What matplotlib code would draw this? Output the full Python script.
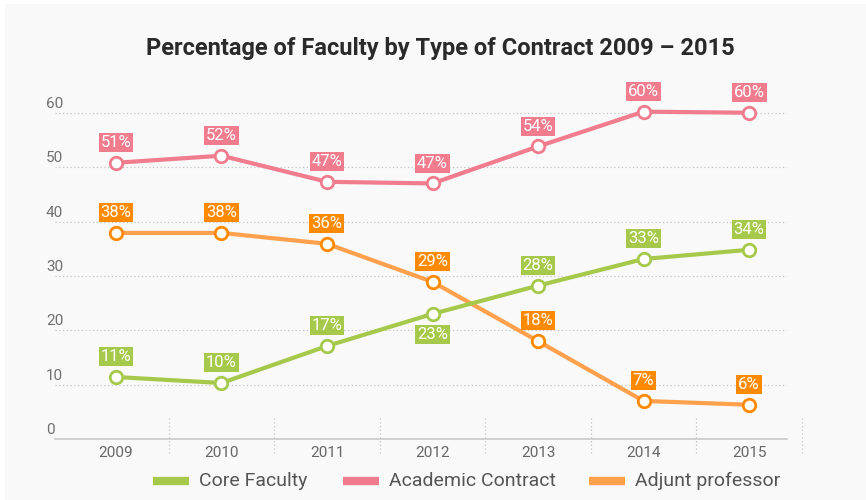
import matplotlib
matplotlib.use('Agg')
import matplotlib.pyplot as plt
import matplotlib.transforms as mtransforms
from matplotlib.lines import Line2D
from matplotlib.patches import Rectangle

years = ['2009', '2010', '2011', '2012', '2013', '2014', '2015']
core = [11.4, 10.3, 17.1, 23.0, 28.2, 33.1, 34.8]
academic = [50.8, 52.1, 47.3, 47.0, 53.8, 60.2, 60.0]
adjunct = [37.9, 37.9, 35.9, 28.9, 18.0, 7.0, 6.3]
core_lbl = ['11%', '10%', '17%', '23%', '28%', '33%', '34%']
academic_lbl = ['51%', '52%', '47%', '47%', '54%', '60%', '60%']
adjunct_lbl = ['38%', '38%', '36%', '29%', '18%', '7%', '6%']
yticks = [0, 10, 20, 30, 40, 50, 60]

green = '#a6c94b'
pink = '#f07c8e'
orange_line = '#ffa04c'
orange = '#ff8a00'
bg = '#f9f9f9'

plt.rcParams['font.family'] = ['Roboto', 'DejaVu Sans']

W, H = 866, 500
fig = plt.figure(figsize=(8.66, 5), dpi=100, facecolor='white')
# grey panel
fig.patches.append(Rectangle((5 / W, 0), 1, 1 - 4 / H, transform=fig.transFigure,
                             facecolor=bg, edgecolor='none', zorder=-10))

ax = fig.add_axes([55 / W, 61 / H, 732 / W, 348 / H])
ax.set_facecolor('none')
x = list(range(len(years)))
ax.set_xlim(-0.578, 6.36)
ax.set_ylim(0, 64)

for s in ['top', 'right', 'left']:
    ax.spines[s].set_visible(False)
ax.spines['bottom'].set_color('#c8c8c8')
ax.spines['bottom'].set_linewidth(1.2)
ax.set_yticks([])
ax.set_xticks([])

for v in yticks[1:]:
    ax.axhline(v, color='#c4c4c4', lw=0.9, ls=(0, (1, 2)), zorder=0)

# y labels above the grid lines
tr = mtransforms.blended_transform_factory(fig.transFigure, ax.transData)
for v in yticks:
    ax.text(46 / W, v + 0.35, str(v), transform=tr, ha='left', va='bottom',
            fontsize=11, color='#707070')

# category separators
for i in x:
    ax.plot([i + 0.5, i + 0.5], [3.9, -3.0], color='#c4c4c4', lw=0.9,
            ls=(0, (1, 2)), clip_on=False, zorder=0)
for i, yr in enumerate(years):
    ax.text(i, -2.5, yr, ha='center', va='center', fontsize=11, color='#666666')

series = [
    (academic, academic_lbl, pink, pink, pink),
    (adjunct, adjunct_lbl, orange_line, orange, orange),
    (core, core_lbl, green, green, green),
]
for vals, lbls, lc, mc, bc in series:
    ax.plot(x, vals, color=lc, lw=3, zorder=3, solid_capstyle='round')
    ax.plot(x, vals, ls='none', marker='o', ms=9, mfc='white', mec=mc,
            mew=2, zorder=4)
    for i, (v, t) in enumerate(zip(vals, lbls)):
        dy = 14.5
        if lbls is core_lbl and t == '23%':
            dy = -14.5
        ax.annotate(t, (i, v), xytext=(0, dy), textcoords='offset points',
                    ha='center', va='center', fontsize=12, color='white',
                    bbox=dict(boxstyle='square,pad=0.12', fc=bc, ec='none'),
                    zorder=5)

fig.text(440 / W, 1 - 49 / H, 'Percentage of Faculty by Type of Contract 2009 \u2013 2015',
         ha='center', va='center', fontsize=17, fontweight='bold', color='#2a2a2a')

# legend
leg = [('Core Faculty', green, 153), ('Academic Contract', pink, 343),
       ('Adjunt professor', orange_line, 589)]
ly = 1 - 481 / H
for name, c, px in leg:
    fig.add_artist(Line2D([px / W, (px + 36) / W], [ly, ly], color=c, lw=6,
                          solid_capstyle='butt', transform=fig.transFigure))
    fig.text((px + 46) / W, ly, name, ha='left', va='center', fontsize=14,
             color='#555555')

fig.savefig('out.png', dpi=100, facecolor=fig.get_facecolor())
